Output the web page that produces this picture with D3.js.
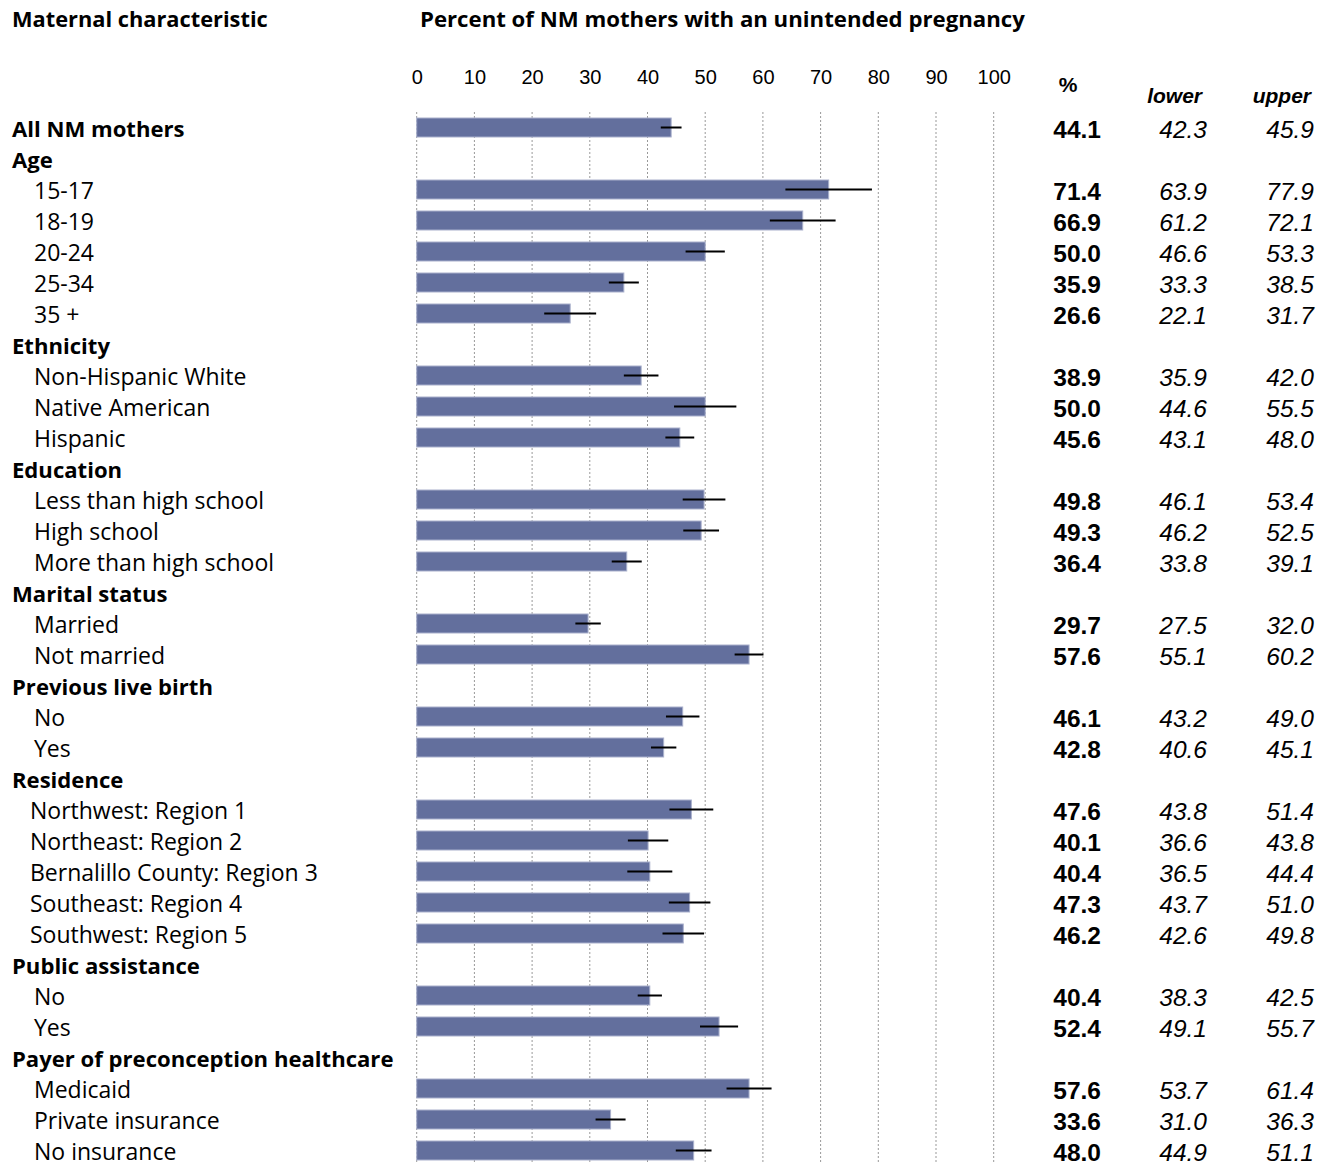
<!DOCTYPE html>
<html>
<head>
<meta charset="utf-8">
<script src="https://cdn.jsdelivr.net/npm/d3@7"></script>
<style>
  body { margin: 0; background: #fff; }
  .lab { font-family: "Open Sans", sans-serif; font-size: 22px; fill: #000; }
  .num { font-family: "Liberation Sans", Arial, sans-serif; font-size: 24.5px; fill: #000; }
</style>
</head>
<body>
<svg width="1332" height="1164"></svg>
<script>
// rows: label, whether it is a group heading, and the estimate with its CI
var labels = ["All NM mothers", "Age", "15-17", "18-19", "20-24", "25-34", "35 +",
  "Ethnicity", "Non-Hispanic White", "Native American", "Hispanic",
  "Education", "Less than high school", "High school", "More than high school",
  "Marital status", "Married", "Not married",
  "Previous live birth", "No", "Yes",
  "Residence", "Northwest: Region 1", "Northeast: Region 2", "Bernalillo County: Region 3", "Southeast: Region 4", "Southwest: Region 5",
  "Public assistance", "No", "Yes",
  "Payer of preconception healthcare", "Medicaid", "Private insurance", "No insurance"];
var heading = [1, 1, 0, 0, 0, 0, 0, 1, 0, 0, 0, 1, 0, 0, 0, 1, 0, 0, 1, 0, 0, 1, 0, 0, 0, 0, 0, 1, 0, 0, 1, 0, 0, 0];
var pct   = [44.1, null, 71.4, 66.9, 50.0, 35.9, 26.6, null, 38.9, 50.0, 45.6, null, 49.8, 49.3, 36.4, null, 29.7, 57.6, null, 46.1, 42.8, null, 47.6, 40.1, 40.4, 47.3, 46.2, null, 40.4, 52.4, null, 57.6, 33.6, 48.0];
var lower = [42.3, null, 63.9, 61.2, 46.6, 33.3, 22.1, null, 35.9, 44.6, 43.1, null, 46.1, 46.2, 33.8, null, 27.5, 55.1, null, 43.2, 40.6, null, 43.8, 36.6, 36.5, 43.7, 42.6, null, 38.3, 49.1, null, 53.7, 31.0, 44.9];
var upper = [45.9, null, 77.9, 72.1, 53.3, 38.5, 31.7, null, 42.0, 55.5, 48.0, null, 53.4, 52.5, 39.1, null, 32.0, 60.2, null, 49.0, 45.1, null, 51.4, 43.8, 44.4, 51.0, 49.8, null, 42.5, 55.7, null, 61.4, 36.3, 51.1];
var ticks = [0, 10, 20, 30, 40, 50, 60, 70, 80, 90, 100];

var rows = labels.map(function(l, i) {
  return { i: i, label: l, head: heading[i], pct: pct[i], lower: lower[i], upper: upper[i] };
});
var data = rows.filter(function(d) { return d.pct != null; });

var svg = d3.select("svg");

var x = d3.scaleLinear().domain([0, 100]).range([416.7, 993.7]);
var y = d3.scalePoint().domain(d3.range(labels.length)).range([129, 1152]);

// headers
svg.append("text").attr("class", "lab").attr("x", 12).attr("y", 27)
    .style("font-weight", "bold").style("font-size", "21.8px").text("Maternal characteristic");
svg.append("text").attr("class", "lab").attr("x", 420).attr("y", 27)
    .style("font-weight", "bold").style("font-size", "22.2px").text("Percent of NM mothers with an unintended pregnancy");

// grid
svg.append("g").selectAll("line").data(ticks).enter().append("line")
    .attr("x1", function(d) { return x(d); }).attr("x2", function(d) { return x(d); })
    .attr("y1", 112).attr("y2", 1164)
    .attr("stroke", "#999").attr("stroke-width", 1).attr("stroke-dasharray", "2,2");

// top axis labels
var axis = d3.axisTop(x).tickValues(ticks).tickSize(0).tickPadding(0);
var ax = svg.append("g").attr("transform", "translate(0,84)").call(axis);
ax.select(".domain").remove();
ax.selectAll("text").attr("font-family", "Liberation Sans, Arial, sans-serif")
    .attr("font-size", 20).attr("fill", "#000");

// bars
svg.append("g").selectAll("rect").data(data).enter().append("rect")
    .attr("x", x(0))
    .attr("y", function(d) { return y(d.i) - 11; })
    .attr("width", function(d) { return x(d.pct) - x(0); })
    .attr("height", 19)
    .attr("fill", "#636f9d")
    .attr("stroke", "#a9b0cc").attr("stroke-width", 1);

// error bars: drawn symmetric about the estimate using the lower half-width
svg.append("g").selectAll("line").data(data).enter().append("line")
    .attr("x1", function(d) { return x(d.lower); })
    .attr("x2", function(d) { return x(2 * d.pct - d.lower); })
    .attr("y1", function(d) { return y(d.i) - 1.5; })
    .attr("y2", function(d) { return y(d.i) - 1.5; })
    .attr("stroke", "#000").attr("stroke-width", 2);

// row labels
svg.append("g").selectAll("text").data(rows).enter().append("text")
    .attr("class", "lab")
    .attr("x", function(d) { return d.head ? 12 : (d.i >= 22 && d.i <= 26 ? 30 : 34); })
    .attr("y", function(d) { return y(d.i) + 7.5; })
    .style("font-weight", function(d) { return d.head ? "bold" : "normal"; })
    .style("font-size", function(d) { return d.head ? "22.1px" : "23px"; })
    .text(function(d) { return d.label; });

// table columns
svg.append("text").attr("class", "num").attr("x", 1068).attr("y", 92)
    .attr("text-anchor", "middle").style("font-weight", "bold").style("font-size", "21px").text("%");
svg.append("text").attr("class", "num").attr("x", 1202).attr("y", 103)
    .attr("text-anchor", "end").style("font-weight", "bold").style("font-style", "italic").style("font-size", "21px").text("lower");
svg.append("text").attr("class", "num").attr("x", 1311).attr("y", 103)
    .attr("text-anchor", "end").style("font-weight", "bold").style("font-style", "italic").style("font-size", "21px").text("upper");

var cols = [
  { key: "pct", x: 1101, bold: true, italic: false },
  { key: "lower", x: 1207, bold: false, italic: true },
  { key: "upper", x: 1314, bold: false, italic: true }
];
cols.forEach(function(c) {
  svg.append("g").selectAll("text").data(data).enter().append("text")
      .attr("class", "num")
      .attr("x", c.x)
      .attr("y", function(d) { return y(d.i) + 8.5; })
      .attr("text-anchor", "end")
      .style("font-weight", c.bold ? "bold" : "normal")
      .style("font-style", c.italic ? "italic" : "normal")
      .text(function(d) { return d[c.key].toFixed(1); });
});
</script>
</body>
</html>
